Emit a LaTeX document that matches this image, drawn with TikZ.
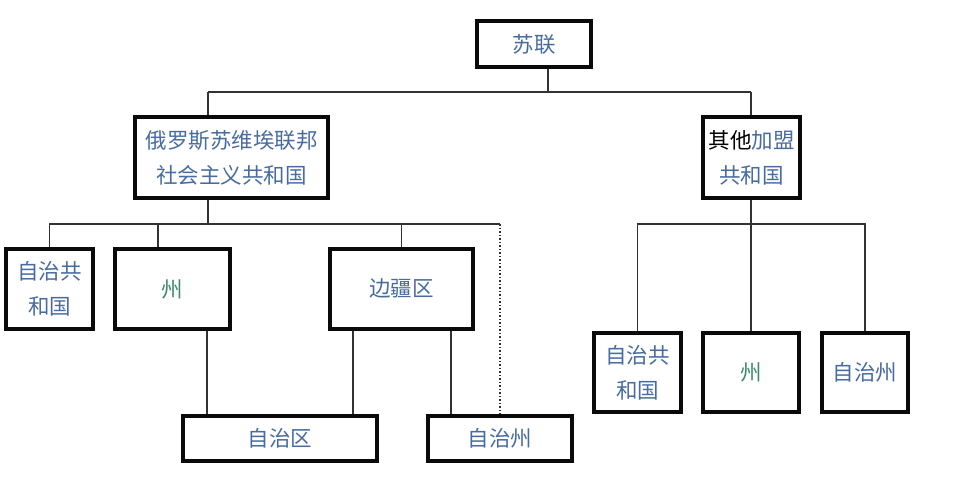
\documentclass[tikz,border=0pt]{standalone}
\usepackage{fontspec}
\setmainfont{Noto Sans CJK SC}
\definecolor{txtblue}{RGB}{72,108,160}
\definecolor{txtgreen}{RGB}{60,140,105}
\definecolor{linegray}{RGB}{50,50,50}
\definecolor{boxblack}{RGB}{10,10,10}
\tikzset{
  box/.style={draw=boxblack, line width=3.3pt, fill=white, inner sep=0pt, align=center,
    font=\fontsize{21.5}{35}\selectfont, text=txtblue},
  conn/.style={draw=linegray, line width=1.5pt},
}
\begin{document}
\begin{tikzpicture}[x=1pt,y=-1pt]
\useasboundingbox (0,0) rectangle (960,482);
% junction coordinates
\coordinate (b0) at (548,92);
\coordinate (bL) at (208,92);
\coordinate (bR) at (751,92);
\coordinate (r0) at (208,224);
\coordinate (rdot) at (500,224);
\coordinate (xz) at (158,224);
\coordinate (x1) at (207,0);
\coordinate (x2) at (353,0);
\coordinate (x3) at (451,0);
\coordinate (o0) at (751,224);
% boxes
\node[box, minimum width=114, minimum height=46] (su) at (534,44) {苏联};
\node[box, minimum width=193, minimum height=81] (rus) at (231.5,157.5) {俄罗斯苏维埃联邦\\社会主义共和国};
\node[box, minimum width=97, minimum height=81] (oth) at (751.5,157.5) {\textcolor{black}{其他}加盟\\共和国};
\node[box, minimum width=87, minimum height=80] (ar1) at (49.5,289) {自治共\\和国};
\node[box, minimum width=115, minimum height=80, text=txtgreen] (zh1) at (172.5,289) {州};
\node[box, minimum width=143, minimum height=80] (bj) at (401.5,289) {边疆区};
\node[box, minimum width=194, minimum height=45] (aq) at (280,438.5) {自治区};
\node[box, minimum width=144, minimum height=45] (az1) at (500,438.5) {自治州};
\node[box, minimum width=87, minimum height=79] (ar2) at (637.5,372.5) {自治共\\和国};
\node[box, minimum width=96, minimum height=79, text=txtgreen] (zh2) at (751,372.5) {州};
\node[box, minimum width=86, minimum height=79] (az2) at (865,372.5) {自治州};
% connectors
\draw[conn] (su.south -| b0) -- (b0);
\draw[conn] (bL) -- (bR);
\draw[conn] (bL) -- (bL |- rus.north);
\draw[conn] (bR) -- (bR |- oth.north);
\draw[conn] (r0 |- rus.south) -- (r0);
\draw[conn] (ar1.north) |- (rdot);
\draw[conn] (xz) -- (xz |- zh1.north);
\draw[conn] (bj.north) -- (bj.north |- r0);
\draw[conn, dotted, line width=1.2pt] (rdot) -- (az1.north);
\draw[conn] (zh1.south -| x1) -- (aq.north -| x1);
\draw[conn] (bj.south -| x2) -- (aq.north -| x2);
\draw[conn] (bj.south -| x3) -- (az1.north -| x3);
\draw[conn] (oth.south -| o0) -- (zh2.north -| o0);
\draw[conn] (ar2.north) |- (o0) -| (az2.north);
\end{tikzpicture}
\end{document}
